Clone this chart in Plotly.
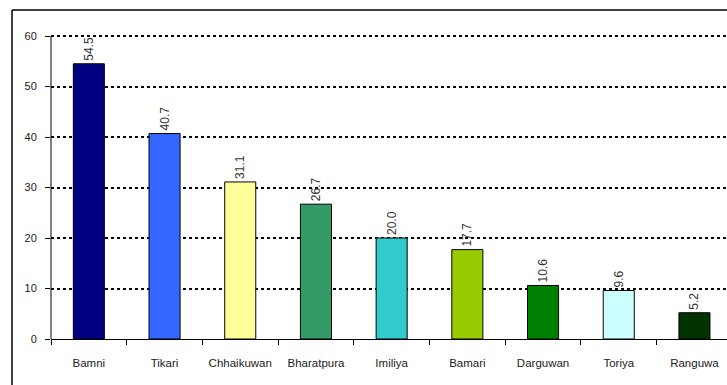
import plotly.graph_objects as go

villages = ["Bamni", "Tikari", "Chhaikuwan", "Bharatpura", "Imiliya",
            "Bamari", "Darguwan", "Toriya", "Ranguwa"]
values = [54.5, 40.7, 31.1, 26.7, 20.0, 17.7, 10.6, 9.6, 5.2]
bar_colors = ["#000080", "#3366FF", "#FFFF99", "#339966", "#33CCCC",
              "#99CC00", "#008000", "#CCFFFF", "#003300"]
y_ticks = [0, 10, 20, 30, 40, 50, 60]

FONT = "Liberation Sans, Arial"

W, H = 727, 385
Y_TOP = 60.2
ML, MR, MB = 51, 0, 46
px_per_unit = (339 - 36) / 60
MT = 36 - round((Y_TOP - 60) * px_per_unit)
plot_w = W - ML - MR
plot_h = H - MT - MB

fig = go.Figure(go.Bar(
    x=villages,
    y=values,
    marker=dict(color=bar_colors, line=dict(color="#000000", width=1)),
    width=0.41,
    text=[f"{v:.1f}" for v in values],
    textposition="outside",
    textangle=-90,
    textfont=dict(family=FONT, size=12, color="#333333"),
    cliponaxis=False,
))

# outer chart frame (left and top edges)
fx = (12 - ML) / plot_w
fy_top = (H - MB - 10) / plot_h
fy_bot = (H - MB - H) / plot_h
fig.add_shape(type="line", xref="paper", yref="paper",
              x0=fx, x1=1.02, y0=fy_top, y1=fy_top,
              line=dict(color="#000000", width=1.5))
fig.add_shape(type="line", xref="paper", yref="paper",
              x0=fx, x1=fx, y0=fy_bot, y1=fy_top,
              line=dict(color="#000000", width=1.5))

# y axis line spans only the 0-60 value range
fig.add_shape(type="line", xref="paper", yref="y",
              x0=0, x1=0, y0=0, y1=60,
              line=dict(color="#000000", width=1))

fig.update_layout(
    width=W, height=H,
    margin=dict(l=ML, r=MR, t=MT, b=MB, autoexpand=False),
    paper_bgcolor="#FFFFFF",
    plot_bgcolor="#FFFFFF",
    showlegend=False,
    bargap=0.59,
    font=dict(family=FONT, size=11, color="#222222"),
    xaxis=dict(
        type="category",
        range=[-0.5, 8.43],
        automargin=False,
        tickangle=0,
        showline=True, linecolor="#000000", linewidth=1,
        ticks="outside", tickson="boundaries", ticklen=5,
        tickcolor="#000000", tickwidth=1,
        showgrid=False,
        ticklabelstandoff=13,
        tickfont=dict(family=FONT, size=11.5, color="#222222"),
    ),
    yaxis=dict(
        range=[0, Y_TOP],
        tickvals=y_ticks,
        automargin=False,
        showline=False,
        ticks="outside", ticklen=5, tickcolor="#000000", tickwidth=1,
        showgrid=True, gridcolor="#000000", gridwidth=2, griddash="dot",
        zeroline=True, zerolinecolor="#000000", zerolinewidth=1,
        ticklabelstandoff=6,
        tickfont=dict(family=FONT, size=11, color="#222222"),
    ),
)

fig.write_html("out.html")
